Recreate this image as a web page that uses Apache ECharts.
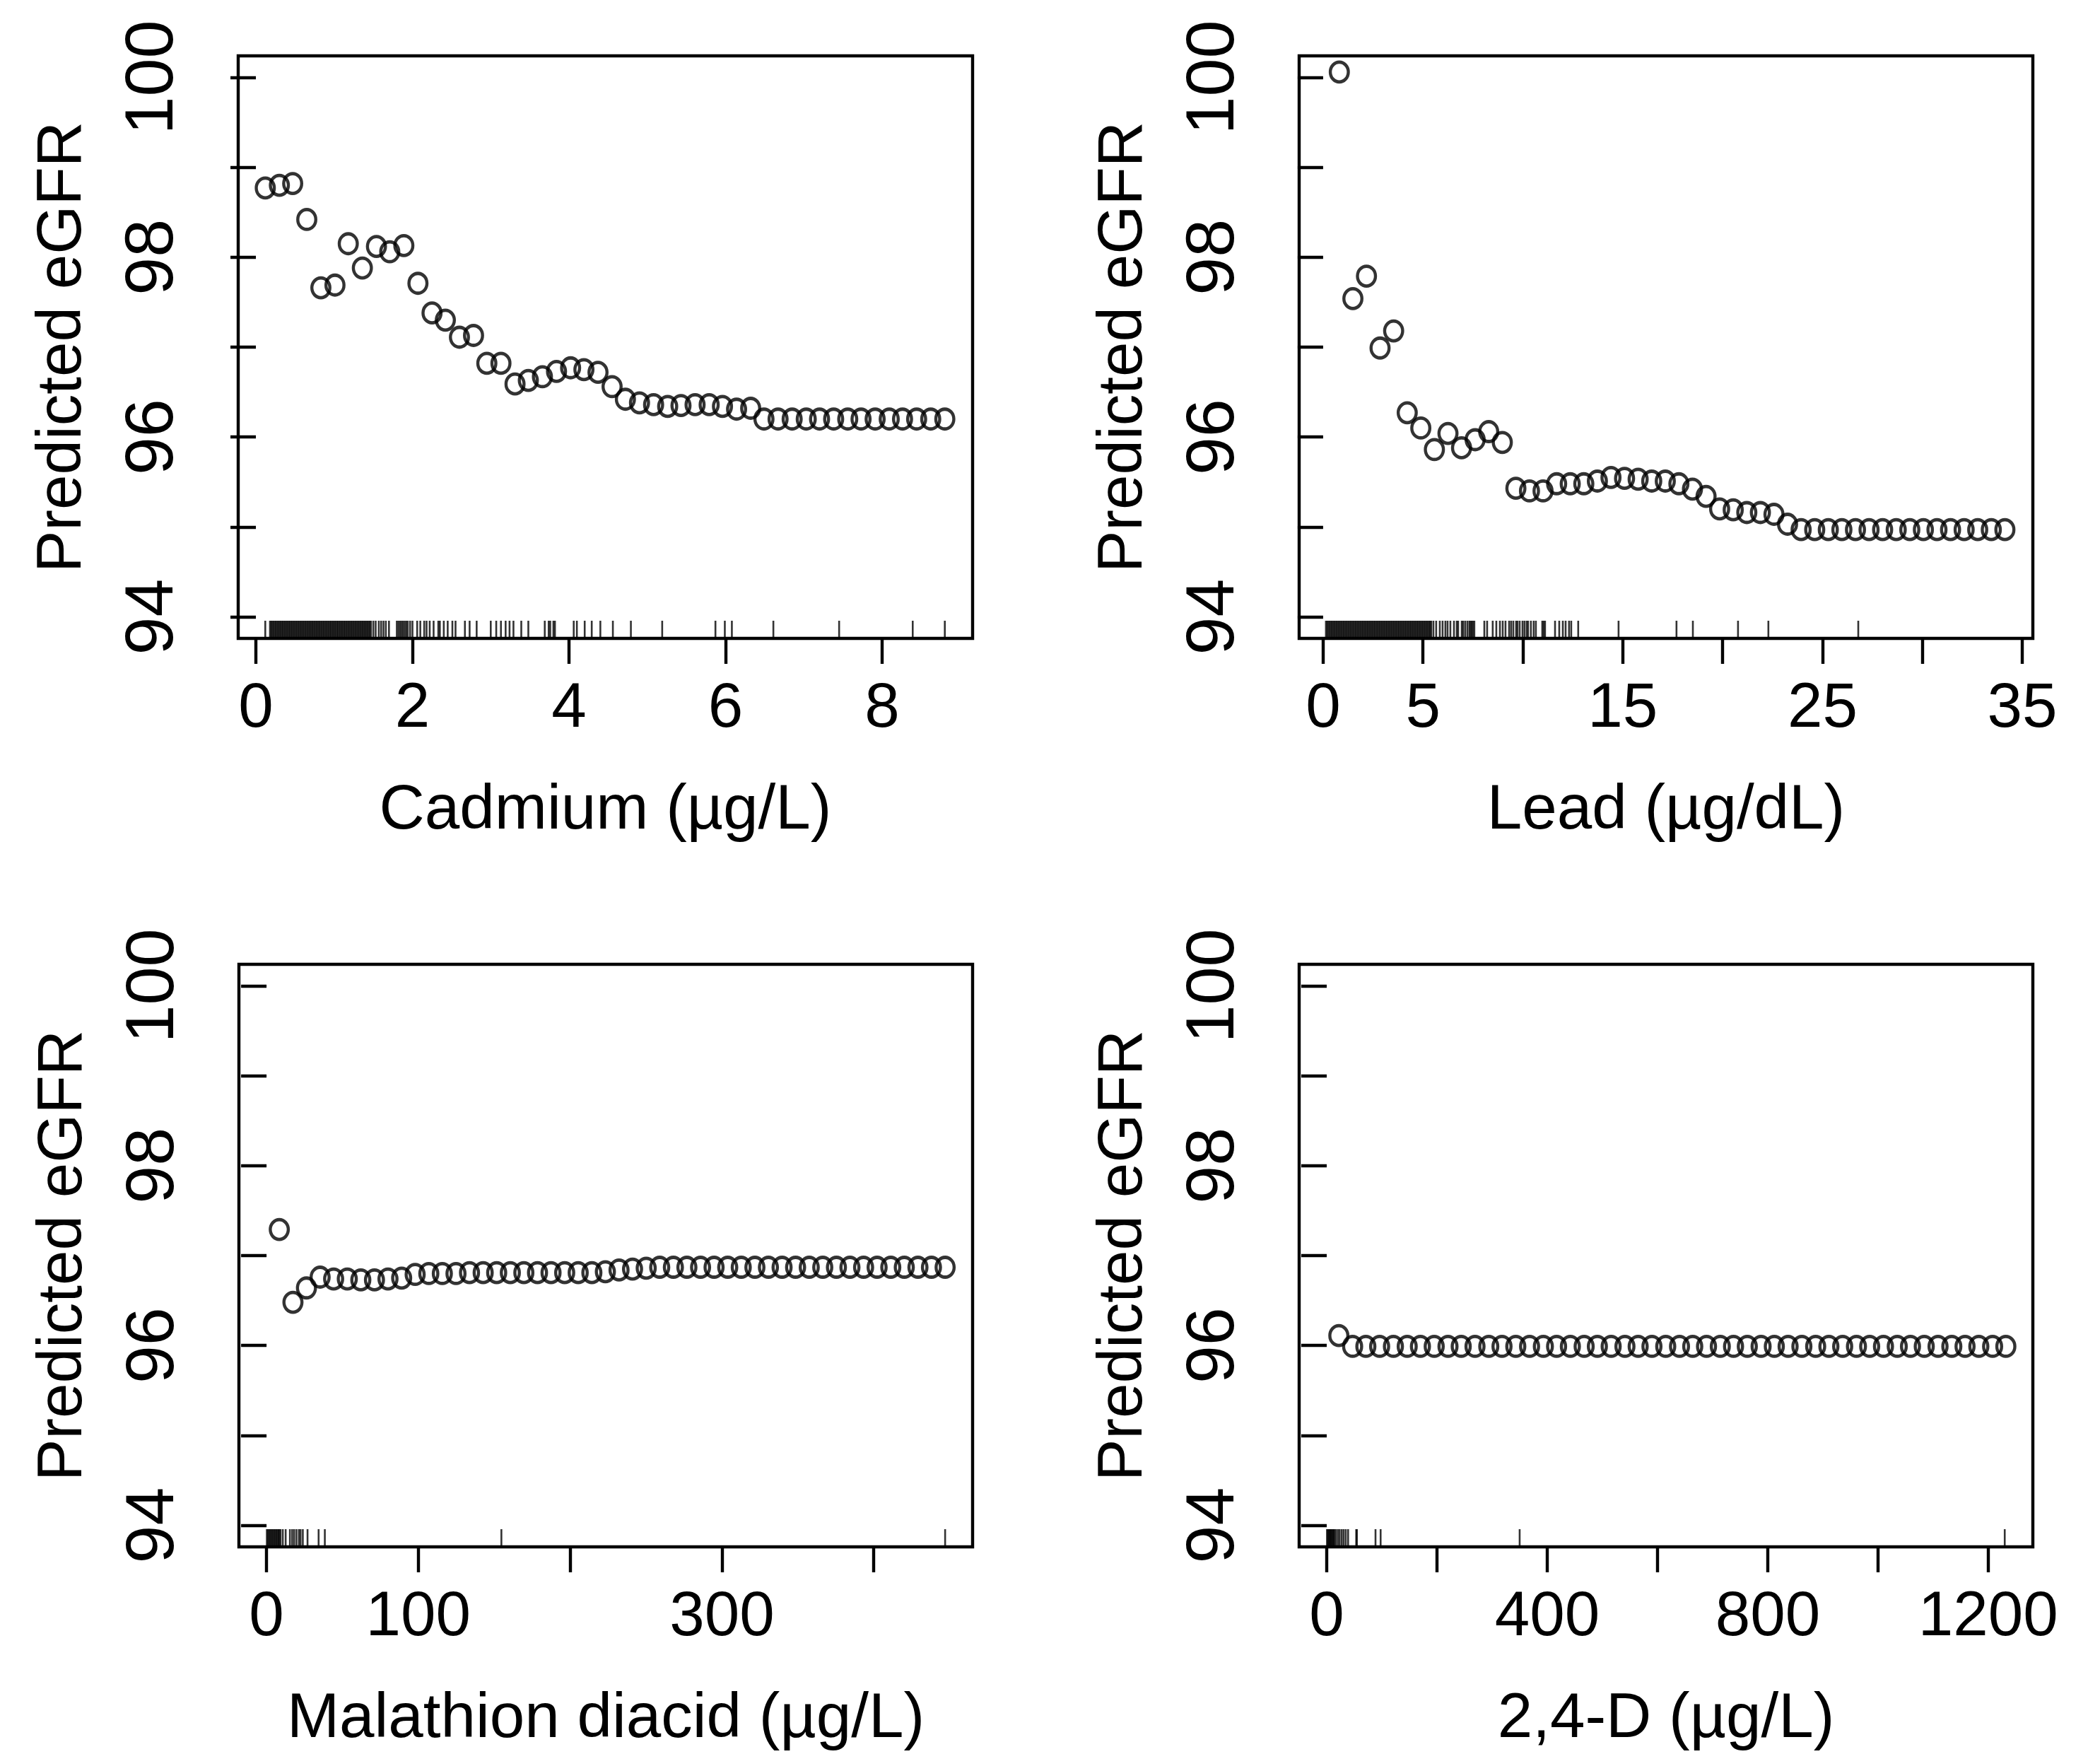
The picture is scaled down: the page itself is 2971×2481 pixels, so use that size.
<!DOCTYPE html>
<html><head><meta charset="utf-8">
<script src="https://cdn.jsdelivr.net/npm/echarts@6/dist/echarts.min.js"></script>
<style>html,body{margin:0;padding:0;background:#fff}#c{width:2971px;height:2481px}</style>
</head><body><div id="c"></div>
<script>
// ---------- DATA ----------
const cadmiumX = [0.12,0.30,0.47,0.65,0.83,1.01,1.18,1.36,1.54,1.71,1.89,2.07,2.25,2.42,2.60,2.78,2.95,3.13,3.31,3.48,3.66,3.84,4.02,4.19,4.37,4.55,4.72,4.90,5.08,5.26,5.43,5.61,5.79,5.96,6.14,6.32,6.49,6.67,6.85,7.03,7.20,7.38,7.56,7.73,7.91,8.09,8.26,8.44,8.62,8.80];
const cadmiumY = [98.77,98.80,98.82,98.42,97.66,97.69,98.15,97.88,98.12,98.06,98.13,97.71,97.38,97.30,97.11,97.13,96.82,96.82,96.59,96.63,96.67,96.73,96.77,96.75,96.72,96.56,96.42,96.38,96.36,96.34,96.35,96.36,96.36,96.34,96.31,96.32,96.20,96.20,96.20,96.20,96.20,96.20,96.20,96.20,96.20,96.20,96.20,96.20,96.20,96.20];
const cadmiumRug = [0.12,0.180,0.195,0.210,0.225,0.240,0.255,0.270,0.285,0.300,0.315,0.330,0.345,0.360,0.375,0.390,0.405,0.420,0.435,0.450,0.465,0.480,0.495,0.510,0.525,0.540,0.555,0.570,0.585,0.600,0.615,0.630,0.645,0.660,0.675,0.690,0.705,0.720,0.735,0.750,0.765,0.780,0.795,0.810,0.825,0.840,0.855,0.870,0.885,0.900,0.915,0.930,0.945,0.960,0.975,0.990,1.005,1.020,1.035,1.050,1.065,1.080,1.095,1.110,1.125,1.140,1.155,1.170,1.185,1.200,1.215,1.230,1.245,1.260,1.275,1.290,1.305,1.320,1.335,1.350,1.365,1.380,1.395,1.410,1.425,1.440,1.455,1.470,1.50,1.53,1.57,1.60,1.63,1.66,1.70,1.80,1.82,1.84,1.86,1.88,1.90,1.92,1.94,1.97,2.00,2.06,2.10,2.15,2.18,2.22,2.27,2.33,2.35,2.40,2.45,2.51,2.55,2.67,2.73,2.82,3.00,3.07,3.13,3.19,3.24,3.29,3.39,3.48,3.69,3.74,3.76,3.80,3.82,4.06,4.10,4.20,4.29,4.40,4.56,4.79,5.19,5.87,5.99,6.08,6.61,7.45,8.39,8.80];
const cadmiumTicks = [0,2,4,6,8];
const cadmiumLabels = [0,2,4,6,8];

const leadX = [0.81,1.49,2.17,2.85,3.53,4.21,4.89,5.57,6.25,6.93,7.61,8.29,8.97,9.65,10.33,11.01,11.69,12.37,13.05,13.73,14.41,15.09,15.77,16.45,17.13,17.81,18.49,19.17,19.85,20.53,21.21,21.89,22.57,23.25,23.93,24.61,25.29,25.97,26.65,27.33,28.01,28.69,29.37,30.05,30.73,31.41,32.09,32.77,33.45,34.13];
const leadY = [100.06,97.54,97.79,96.99,97.18,96.27,96.10,95.86,96.04,95.88,95.97,96.06,95.94,95.43,95.40,95.40,95.48,95.48,95.48,95.51,95.55,95.54,95.53,95.51,95.51,95.48,95.42,95.34,95.20,95.19,95.16,95.16,95.14,95.03,94.97,94.97,94.97,94.97,94.97,94.97,94.97,94.97,94.97,94.97,94.97,94.97,94.97,94.97,94.97,94.97];
const leadRug = [0.14,0.20,0.26,0.32,0.38,0.44,0.50,0.56,0.62,0.68,0.74,0.80,0.86,0.92,0.98,1.04,1.10,1.16,1.22,1.28,1.34,1.40,1.46,1.52,1.58,1.64,1.70,1.76,1.82,1.88,1.94,2.00,2.06,2.12,2.18,2.24,2.30,2.36,2.42,2.48,2.54,2.60,2.66,2.72,2.78,2.84,2.90,2.96,3.02,3.08,3.14,3.20,3.26,3.32,3.38,3.44,3.50,3.56,3.62,3.68,3.74,3.80,3.86,3.92,3.98,4.04,4.10,4.16,4.22,4.28,4.34,4.40,4.46,4.52,4.58,4.64,4.70,4.76,4.82,4.88,4.94,5.00,5.06,5.12,5.18,5.24,5.30,5.36,5.41,5.52,5.66,5.84,5.98,6.12,6.23,6.37,6.55,6.69,6.76,6.94,7.01,7.11,7.22,7.32,7.38,7.44,7.50,7.57,8.07,8.21,8.49,8.67,8.85,8.99,9.13,9.31,9.41,9.52,9.66,9.73,9.84,9.98,10.08,10.19,10.26,10.40,10.54,10.65,10.97,11.04,11.11,11.61,11.82,12.00,12.14,12.31,12.42,12.77,14.79,17.69,18.51,20.77,22.29,26.79];
const leadTicks = [0,5,10,15,20,25,30,35];
const leadLabels = [0,5,15,25,35];

const malathionX = [8.4,17.4,26.3,35.3,44.2,53.2,62.1,71.1,80.0,89.0,97.9,106.9,115.8,124.8,133.7,142.7,151.6,160.6,169.5,178.5,187.4,196.4,205.3,214.3,223.2,232.2,241.1,250.1,259.0,268.0,276.9,285.9,294.8,303.8,312.7,321.7,330.6,339.6,348.5,357.5,366.4,375.4,384.3,393.3,402.2,411.2,420.1,429.1,438.0,447.0];
const malathionY = [97.29,96.48,96.64,96.76,96.74,96.74,96.73,96.73,96.74,96.75,96.79,96.80,96.80,96.80,96.81,96.81,96.81,96.81,96.81,96.81,96.81,96.81,96.81,96.81,96.82,96.84,96.85,96.86,96.87,96.87,96.87,96.87,96.87,96.87,96.87,96.87,96.87,96.87,96.87,96.87,96.87,96.87,96.87,96.87,96.87,96.87,96.87,96.87,96.87,96.87];
const malathionRug = [0.2,0.9,1.6,2.3,3.0,3.7,4.4,5.1,5.8,6.5,7.2,7.9,8.5,9.2,10.7,12.6,15.4,16.9,18.2,19.7,21.3,22.4,23.9,27.0,34.3,38.4,154.7,447.0];
const malathionTicks = [0,100,200,300,400];
const malathionLabels = [0,100,300];

const d24X = [22,47,71,96,121,146,170,195,220,244,269,294,318,343,368,393,417,442,467,491,516,541,565,590,615,640,664,689,714,738,763,788,812,837,862,887,911,936,961,985,1010,1035,1059,1084,1109,1134,1158,1183,1208,1232];
const d24Y = [96.11,95.99,95.99,95.99,95.99,95.99,95.99,95.99,95.99,95.99,95.99,95.99,95.99,95.99,95.99,95.99,95.99,95.99,95.99,95.99,95.99,95.99,95.99,95.99,95.99,95.99,95.99,95.99,95.99,95.99,95.99,95.99,95.99,95.99,95.99,95.99,95.99,95.99,95.99,95.99,95.99,95.99,95.99,95.99,95.99,95.99,95.99,95.99,95.99,95.99];
const d24Rug = [0.5,2,3.5,5,6.5,8,9.5,11,12.5,14,16.7,20.1,23.5,27.3,30.8,34.6,38.8,53.5,54.8,88.5,97.8,350,1230];
const d24Ticks = [0,200,400,600,800,1000,1200];
const d24Labels = [0,400,800,1200];

const yTicks = [94,95,96,97,98,99,100];
const yLabels = [94,96,98,100];
const yTitle = 'Predicted eGFR';

// ---------- LAYOUT ----------
const FONT = "'Liberation Sans', Arial, Helvetica, sans-serif";
const FS = 89;
const FSY = 97;
const YMIN = 93.76, YMAX = 100.24;
const LW = 4.4;
const panels = [
  {grid:{left:337,top:79,width:1039,height:824}, xmin:-0.226, xmax:9.155, name:'Cadmium (µg/L)', x:cadmiumX, y:cadmiumY, rug:cadmiumRug, ticks:cadmiumTicks, labels:cadmiumLabels},
  {grid:{left:1838,top:79,width:1038,height:824}, xmin:-1.20, xmax:35.53, name:'Lead (µg/dL)', x:leadX, y:leadY, rug:leadRug, ticks:leadTicks, labels:leadLabels},
  {grid:{left:338,top:1364,width:1038,height:824}, xmin:-18.2, xmax:465.1, name:'Malathion diacid (µg/L)', x:malathionX, y:malathionY, rug:malathionRug, ticks:malathionTicks, labels:malathionLabels},
  {grid:{left:1838,top:1364,width:1038,height:824}, xmin:-50, xmax:1281, name:'2,4-D (µg/L)', x:d24X, y:d24Y, rug:d24Rug, ticks:d24Ticks, labels:d24Labels}
];

const CIRCLE = 'path://M0,12A12,12,0,1,1,24,12A12,12,0,1,1,0,12Z';
const option = {
  backgroundColor: '#ffffff',
  animation: false,
  grid: [], xAxis: [], yAxis: [], series: []
};
panels.forEach((p, i) => {
  option.grid.push(Object.assign({show:true, borderColor:'#000', borderWidth:LW, backgroundColor:'transparent'}, p.grid));
  option.xAxis.push({
    type:'value', gridIndex:i, min:p.xmin, max:p.xmax,
    name:p.name, nameLocation:'middle', nameGap:200,
    nameTextStyle:{fontFamily:FONT, fontSize:FS, color:'#000'},
    axisLine:{show:false}, splitLine:{show:false},
    axisTick:{show:true, inside:false, length:36, lineStyle:{color:'#000', width:LW}, customValues:p.ticks},
    axisLabel:{show:true, margin:56, fontFamily:FONT, fontSize:FS, color:'#000', customValues:p.labels, formatter:v=>String(v)}
  });
  option.yAxis.push({
    type:'value', gridIndex:i, min:YMIN, max:YMAX,
    name:yTitle, nameLocation:'middle', nameGap:203, nameRotate:90,
    nameTextStyle:{fontFamily:FONT, fontSize:FS, color:'#000'},
    axisLine:{show:false}, splitLine:{show:false},
    axisTick:{show:true, inside:false, length:36, lineStyle:{color:'#000', width:LW}, customValues:yTicks},
    axisLabel:{show:true, rotate:90, margin:71, fontFamily:FONT, fontSize:FSY, color:'#000', customValues:yLabels, formatter:v=>String(v)}
  });
  option.series.push({
    type:'scatter', xAxisIndex:i, yAxisIndex:i, silent:true, clip:false,
    symbol:'rect', symbolSize:[2.6,25], symbolOffset:[0,-12.5],
    itemStyle:{color:'#000'},
    data:p.rug.map(v=>[v, YMIN])
  });
  option.series.push({
    type:'scatter', xAxisIndex:i, yAxisIndex:i, silent:true, clip:false,
    symbol:CIRCLE, symbolSize:[25.5,28],
    itemStyle:{color:'rgba(0,0,0,0)', borderColor:'#000', borderWidth:4.6},
    data:p.x.map((v,k)=>[v, p.y[k]])
  });
});
const chart = echarts.init(document.getElementById('c'), null, {renderer:'canvas', width:2971, height:2481});
chart.setOption(option);
</script>
</body></html>
